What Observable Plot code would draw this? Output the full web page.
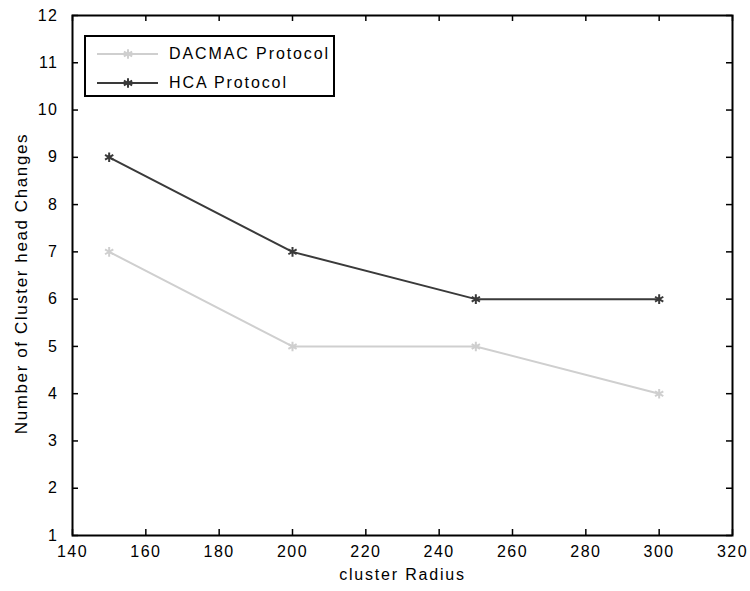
<!DOCTYPE html>
<html>
<head>
<meta charset="utf-8">
<script src="https://cdn.jsdelivr.net/npm/d3@7"></script>
<script src="https://cdn.jsdelivr.net/npm/@observablehq/plot@0.6"></script>
<style>
  html, body { margin: 0; padding: 0; background: #fff; }
  #wrap { position: relative; width: 750px; height: 591px; font-family: "Liberation Sans", Arial, sans-serif; }
  #legend { position: absolute; left: 84px; top: 35px; width: 251px; height: 62px; border: 2px solid #000; background: #fff; box-sizing: border-box; }
  .row { position: absolute; left: 0; display: flex; align-items: center; height: 20px; font-size: 16px; letter-spacing: 1.9px; color: #000; white-space: nowrap; }
</style>
</head>
<body>
<div id="wrap"></div>
<script>
const radius = [150, 200, 250, 300];
const dacmac = [7, 5, 5, 4];
const hca = [9, 7, 6, 6];
const seriesNames = ["DACMAC Protocol", "HCA Protocol"];
const seriesColors = ["#cfcfcf", "#3a3a3a"];
const xTicks = [140, 160, 180, 200, 220, 240, 260, 280, 300, 320];
const yTicks = [1, 2, 3, 4, 5, 6, 7, 8, 9, 10, 11, 12];
const xLabel = "cluster Radius";
const yLabel = "Number of Cluster head Changes";

const rows = [];
radius.forEach((r, i) => {
  rows.push({x: r, y: dacmac[i], s: seriesNames[0]});
  rows.push({x: r, y: hca[i], s: seriesNames[1]});
});

const W = 750, H = 591, mL = 72, mR = 18, mT = 15, mB = 56;
const pw = W - mL - mR, ph = H - mT - mB, tl = 6;

const chart = Plot.plot({
  width: W, height: H,
  marginLeft: mL, marginRight: mR, marginTop: mT, marginBottom: mB,
  style: {fontFamily: "'Liberation Sans', Arial, sans-serif", fontSize: "16px", color: "#000", background: "#fff", letterSpacing: "1.5px"},
  x: {domain: [140, 320]},
  y: {domain: [1, 12]},
  color: {domain: seriesNames, range: seriesColors},
  marks: [
    Plot.axisX(xTicks, {tickSize: 0, tickPadding: 10, fontSize: 16, label: null}),
    Plot.axisY(yTicks, {tickSize: 0, tickPadding: 14, fontSize: 16, label: null}),
    Plot.tickX(xTicks, {x: d => d, insetTop: ph - tl, stroke: "#000", strokeWidth: 1.5}),
    Plot.tickX(xTicks, {x: d => d, insetBottom: ph - tl, stroke: "#000", strokeWidth: 1.5}),
    Plot.tickY(yTicks, {y: d => d, insetRight: pw - tl, stroke: "#000", strokeWidth: 1.5}),
    Plot.tickY(yTicks, {y: d => d, insetLeft: pw - tl, stroke: "#000", strokeWidth: 1.5}),
    Plot.line(rows, {x: "x", y: "y", z: "s", stroke: "s", strokeWidth: 2}),
    Plot.dot(rows, {x: "x", y: "y", stroke: "s", symbol: "asterisk", r: 4.5, strokeWidth: 2}),
    Plot.frame({stroke: "#000", strokeWidth: 2}),
    Plot.text([xLabel], {frameAnchor: "bottom", dy: 44, fontSize: 16, fill: "#000", textAnchor: "middle"}),
    Plot.text([yLabel], {frameAnchor: "left", dx: -51, dy: 8, rotate: -90, fontSize: 17, fill: "#000", textAnchor: "middle"})
  ]
});

d3.select(chart).selectAll("text").filter(function() { return this.textContent === yLabel; })
  .style("letter-spacing", "1.6px");
d3.select(chart).selectAll("text").filter(function() { return this.textContent === xLabel; })
  .style("letter-spacing", "1.8px");

const wrap = document.getElementById("wrap");
wrap.appendChild(chart);

const legend = document.createElement("div");
legend.id = "legend";
seriesNames.forEach((name, i) => {
  const row = document.createElement("div");
  row.className = "row";
  row.style.top = (i === 0 ? 7 : 36) + "px";
  const sw = d3.create("svg").attr("width", 77).attr("height", 20);
  sw.append("line").attr("x1", 11).attr("x2", 72).attr("y1", 10).attr("y2", 10)
    .attr("stroke", seriesColors[i]).attr("stroke-width", 2);
  sw.append("path").attr("d", d3.symbol(d3.symbolAsterisk, 64)())
    .attr("transform", "translate(42,10)").attr("stroke", seriesColors[i]).attr("stroke-width", 2).attr("fill", "none");
  row.appendChild(sw.node());
  const t = document.createElement("span");
  t.textContent = name;
  t.style.marginLeft = "6px";
  row.appendChild(t);
  legend.appendChild(row);
});
wrap.appendChild(legend);
</script>
</body>
</html>
